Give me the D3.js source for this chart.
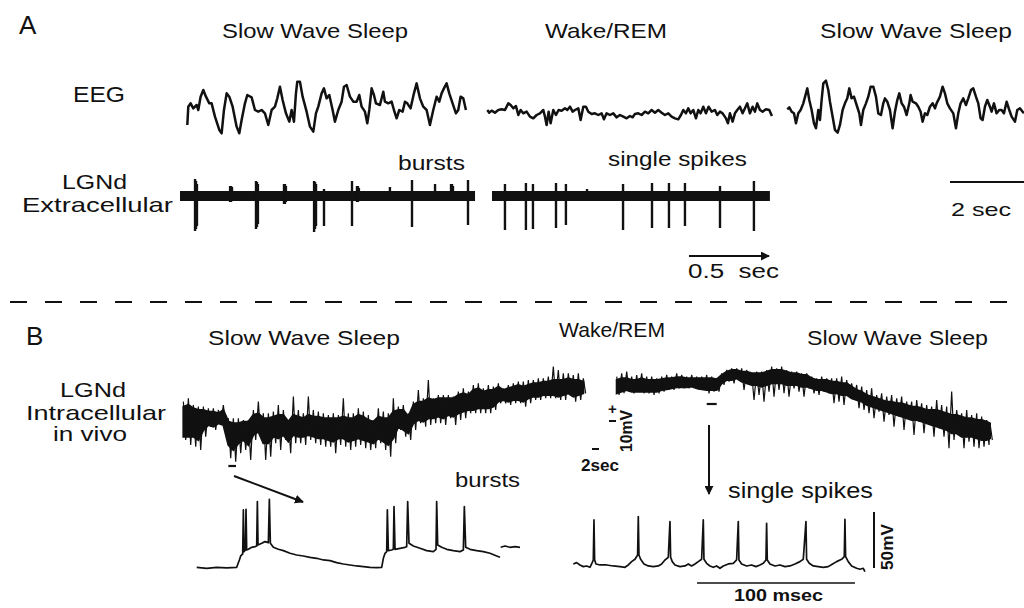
<!DOCTYPE html>
<html>
<head>
<meta charset="utf-8">
<script src="https://cdn.jsdelivr.net/npm/d3@7"></script>
<style>
body{margin:0;background:#fff;}
svg{display:block;font-family:"Liberation Sans",Arial,sans-serif;}
text{fill:#111;}
</style>
</head>
<body>
<svg id="chart" width="1024" height="608"></svg>
<script>
/* A: EEG, [muestra, amplitud]  (111 muestras = 1 s) */
var EEG_RATE = 111;
var eegSws1 = [[0,-45],[3,10],[10,20],[18,5],[28,15],[33,0],[40,40],[48,60],[56,40],[66,20],[73,20],[83,-20],[96,-60],[103,-70],[110,0],[118,50],[126,40],[136,10],[148,-50],[156,-70],[163,-30],[173,20],[180,45],[193,38],[203,0],[213,-5],[223,0],[233,-10],[243,-45],[253,0],[263,10],[270,35],[278,70],[286,30],[296,-10],[306,-35],[313,0],[320,-35],[326,50],[330,85],[338,85],[346,40],[358,-5],[368,-50],[378,-65],[386,-10],[393,10],[403,50],[410,65],[418,35],[426,45],[436,0],[443,-35],[453,0],[463,25],[470,70],[478,75],[488,40],[498,25],[508,25],[516,45],[523,10],[533,-5],[540,-40],[546,0],[553,65],[560,45],[566,20],[578,15],[588,55],[593,25],[603,20],[613,25],[620,0],[628,-25],[636,0],[646,-5],[653,25],[660,20],[670,5],[680,50],[688,80],[698,35],[708,10],[718,0],[728,-45],[738,0],[748,40],[756,25],[763,50],[770,65],[778,80],[786,50],[796,20],[806,-10],[813,0],[820,40],[828,35],[836,0]];
var eegWake = [[0,0],[6,-8],[13,-2],[23,-8],[33,0],[43,2],[53,0],[63,20],[70,15],[78,5],[86,12],[93,-15],[100,0],[108,-10],[118,-5],[128,-20],[138,-25],[148,-15],[158,-10],[168,0],[173,-20],[178,-45],[184,-5],[190,-40],[198,0],[206,-15],[214,0],[223,-2],[233,5],[240,0],[248,10],[256,-5],[263,0],[273,5],[280,-30],[288,10],[296,10],[303,-5],[313,-12],[323,-10],[333,-15],[343,-10],[350,-28],[358,-10],[368,-15],[378,-10],[388,-22],[398,-15],[408,-20],[418,-25],[428,-18],[436,-22],[443,-12],[453,-10],[463,-15],[473,-5],[483,-10],[493,0],[503,-8],[513,0],[523,-8],[533,-15],[543,-10],[553,-20],[563,-25],[573,-28],[581,-15],[588,0],[596,-10],[603,5],[610,-10],[618,0],[626,-25],[633,0],[640,-10],[648,10],[656,-10],[664,10],[673,-5],[683,0],[690,-15],[698,-5],[706,-10],[716,-25],[722,-40],[728,-10],[736,-35],[743,-10],[750,0],[758,10],[766,-10],[773,5],[780,20],[788,-10],[796,10],[803,-5],[810,20],[818,0],[826,-5],[836,2],[846,0],[854,-18]];
var eegSws2 = [[0,2],[6,8],[13,-5],[20,-10],[26,-40],[33,-10],[40,0],[48,20],[56,50],[60,65],[66,30],[73,0],[80,-40],[86,-55],[93,0],[98,-30],[103,30],[108,80],[116,88],[123,60],[128,25],[136,-20],[143,-60],[151,-68],[158,-45],[166,0],[173,20],[180,35],[186,65],[193,35],[200,40],[208,15],[216,-10],[221,-45],[228,0],[236,20],[243,40],[250,70],[258,70],[266,40],[273,-10],[281,-15],[288,20],[293,35],[300,25],[308,0],[316,-55],[323,-5],[330,30],[336,50],[343,20],[350,10],[358,-15],[366,20],[370,45],[376,25],[386,20],[393,10],[400,-5],[406,-35],[413,-10],[420,-15],[428,10],[436,20],[443,5],[448,20],[458,40],[466,70],[473,50],[480,20],[488,5],[498,-10],[506,-55],[513,-10],[520,20],[528,35],[536,15],[543,35],[551,60],[558,65],[566,40],[573,20],[580,-25],[586,-30],[593,10],[600,30],[608,10],[613,-5],[620,20],[628,-10],[636,0],[643,0],[650,-10],[658,25],[666,0],[673,-20],[683,-35],[690,0],[698,5],[706,-5],[710,-10]];

/* A: LGNd extracelular, [ms, pico arriba, pico abajo] */
var extSws = [[94,17,35],[100,15,33],[106,12,30],[313,10,6],[319,10,6],[325,9,5],[475,15,33],[481,14,31],[487,12,28],[650,12,8],[656,12,8],[662,10,6],[838,15,36],[844,14,33],[850,12,30],[900,7,30],[1075,15,30],[1106,10,6],[1112,10,6],[1118,8,5],[1312,9,3],[1450,16,31],[1594,12,3],[1694,12,5],[1700,12,5],[1706,10,4],[1800,16,29]];
var extWake = [[81,12,34],[212,13,34],[256,12,33],[400,13,32],[462,12,29],[594,7,3],[819,12,34],[1000,13,32],[1106,13,32],[1206,13,30],[1425,10,32],[1637,15,35]];
var extDur = [1844, 1737];

/* B: LGNd intracelular in vivo, extremos [muestra, máx, mín] */
var intraSws = [[2,185,70],[17,195,55],[32,175,50],[47,170,40],[62,170,80],[77,165,110],[92,165,100],[107,160,120],[122,175,110],[137,135,15],[152,135,5],[167,135,30],[182,130,40],[197,130,10],[212,160,70],[227,185,80],[242,150,10],[257,150,20],[272,155,60],[287,175,40],[302,160,70],[317,130,30],[332,200,60],[347,160,60],[362,150,55],[377,200,70],[392,160,60],[407,155,55],[422,150,50],[437,145,50],[452,150,30],[467,145,55],[482,195,50],[497,150,40],[512,150,50],[527,165,55],[542,155,45],[557,145,40],[572,130,45],[587,165,60],[602,155,40],[617,150,20],[632,195,60],[647,170,100],[662,175,80],[677,150,70],[692,185,100],[707,220,120],[722,195,110],[737,250,115],[752,195,120],[767,205,120],[782,205,115],[797,205,135],[812,200,115],[827,215,130],[842,225,135],[857,215,150],[872,235,150],[887,240,150],[902,225,150],[917,235,150],[932,230,160],[947,240,180],[962,225,180],[977,235,175],[992,240,180],[1007,245,180],[1022,245,170],[1037,250,180],[1052,250,190],[1067,255,190],[1082,255,195],[1097,260,195],[1112,290,195],[1127,280,190],[1142,270,190],[1157,270,205],[1172,265,185],[1187,270,190],[1202,255,210]];
var intraWake = [[0,260,205],[15,270,210],[30,275,215],[45,260,210],[60,265,215],[75,270,210],[90,260,210],[105,260,205],[120,255,210],[135,260,215],[150,265,220],[165,260,220],[180,270,225],[195,265,225],[210,260,225],[225,265,230],[240,260,220],[255,260,220],[270,265,210],[285,260,215],[300,255,215],[315,270,235],[330,280,245],[345,285,240],[360,285,250],[375,285,220],[390,280,235],[405,270,190],[420,275,205],[435,275,185],[450,280,215],[465,290,200],[480,285,220],[495,290,210],[510,280,200],[525,275,225],[540,275,215],[555,270,200],[570,270,225],[585,260,210],[600,255,205],[615,260,215],[630,255,210],[645,255,180],[660,255,185],[675,260,175],[690,250,200],[705,240,195],[720,235,165],[735,230,160],[750,220,150],[765,225,135],[780,205,155],[795,210,125],[810,200,145],[825,205,110],[840,195,140],[855,200,100],[870,185,135],[885,185,85],[900,190,125],[915,180,90],[930,175,115],[945,170,80],[960,190,105],[975,175,80],[990,170,45],[1005,215,70],[1020,160,100],[1035,150,45],[1050,160,65],[1065,145,50],[1080,150,45],[1095,140,50],[1110,130,55],[1120,120,70]];
/* banda central del registro, [muestra, arriba, abajo] */
var intraSwsCore = [[2,170,80],[17,175,80],[32,165,80],[47,160,70],[62,160,100],[77,155,115],[92,155,110],[107,150,120],[122,160,115],[137,125,55],[152,120,40],[167,120,60],[182,125,70],[197,125,55],[212,145,85],[227,150,95],[242,135,60],[257,135,60],[272,140,80],[287,145,75],[302,145,85],[317,125,65],[332,145,85],[347,140,80],[362,135,80],[377,145,85],[392,140,80],[407,140,75],[422,135,75],[437,135,70],[452,135,65],[467,135,75],[482,140,75],[497,135,65],[512,135,70],[527,145,75],[542,140,70],[557,130,65],[572,125,60],[587,140,75],[602,135,65],[617,135,55],[632,155,75],[647,160,110],[662,160,100],[677,140,90],[692,175,120],[707,185,130],[722,185,125],[737,195,135],[752,190,135],[767,195,140],[782,195,135],[797,195,145],[812,195,140],[827,205,150],[842,210,155],[857,205,160],[872,220,160],[887,225,165],[902,215,165],[917,220,165],[932,220,170],[947,230,185],[962,220,190],[977,225,185],[992,230,190],[1007,235,190],[1022,230,185],[1037,235,195],[1052,240,200],[1067,240,200],[1082,245,205],[1097,245,205],[1112,250,205],[1127,250,200],[1142,250,205],[1157,255,210],[1172,250,200],[1187,250,205],[1202,245,210]];
var intraWakeCore = [[0,250,210],[15,255,215],[30,255,220],[45,250,215],[60,250,215],[75,255,215],[90,250,215],[105,250,215],[120,250,215],[135,252,220],[150,255,222],[165,255,225],[180,258,228],[195,258,228],[210,255,228],[225,255,230],[240,255,225],[255,255,222],[270,255,220],[285,255,220],[300,252,220],[315,265,240],[330,275,250],[345,280,250],[360,280,255],[375,275,245],[390,275,240],[405,270,235],[420,270,235],[435,270,230],[450,275,235],[465,280,240],[480,280,240],[495,280,240],[510,275,235],[525,270,235],[540,270,235],[555,265,230],[570,265,230],[585,255,225],[600,250,220],[615,250,220],[630,250,215],[645,245,210],[660,245,210],[675,240,205],[690,240,205],[705,230,195],[720,220,190],[735,215,185],[750,205,175],[765,200,170],[780,195,165],[795,190,160],[810,185,155],[825,185,150],[840,180,145],[855,180,140],[870,175,135],[885,170,130],[900,170,130],[915,165,125],[930,160,120],[945,160,115],[960,160,110],[975,155,105],[990,150,100],[1005,145,90],[1020,145,90],[1035,140,80],[1050,135,80],[1065,135,80],[1080,130,75],[1095,130,70],[1110,125,70],[1120,120,75]];

/* B: registros ampliados, [muestra, potencial] */
var cellBursts = [[0,78],[30,75],[60,78],[90,76],[120,78],[128,100],[132,112],[138,118],[140,250],[142,125],[146,130],[148,252],[150,130],[155,132],[165,138],[175,140],[180,142],[182,275],[184,145],[195,150],[205,155],[215,152],[218,282],[221,150],[230,138],[245,132],[260,128],[280,120],[300,115],[320,112],[340,108],[360,105],[380,100],[400,98],[420,92],[440,88],[460,85],[480,82],[500,80],[520,78],[540,77],[555,78],[560,105],[565,120],[570,125],[572,250],[575,128],[585,130],[590,132],[592,260],[595,132],[610,135],[625,138],[630,140],[633,275],[637,150],[650,142],[670,135],[690,128],[710,125],[718,132],[720,275],[723,145],[735,138],[750,132],[770,128],[790,125],[800,130],[803,260],[807,138],[820,132],[840,128],[860,125],[880,120],[900,112],[910,108]];
var cellBurstsTail = [[912,138],[925,142],[940,138],[955,140],[970,138]];
var cellSingle = [[0,88],[10,92],[20,85],[30,80],[40,82],[50,78],[55,88],[60,100],[62,220],[64,100],[68,88],[80,85],[100,85],[120,82],[140,80],[155,78],[165,85],[175,95],[185,102],[193,115],[195,230],[197,115],[202,102],[212,88],[225,82],[240,80],[255,82],[265,88],[275,100],[285,108],[290,215],[292,108],[297,95],[305,85],[320,80],[335,82],[345,88],[355,82],[365,88],[375,95],[385,102],[390,220],[392,102],[400,90],[410,82],[420,78],[430,82],[440,75],[450,82],[465,88],[480,90],[490,100],[495,215],[497,100],[505,88],[520,82],[535,85],[548,80],[560,85],[570,90],[578,100],[580,210],[582,100],[590,88],[605,82],[620,85],[635,80],[650,82],[665,88],[680,95],[690,102],[698,215],[700,102],[708,90],[720,82],[735,80],[750,78],[765,80],[778,88],[790,95],[805,102],[813,110],[815,222],[817,110],[825,95],[835,82],[850,75],[860,72],[870,75],[875,65]];
var SINGLE_MS = 4.74;   // muestras por ms
var CELL_MV = 3.36;     // unidades por mV

var svg = d3.select("#chart");
var defs = svg.append("defs");
defs.append("marker").attr("id", "head").attr("viewBox", "0 0 10 10")
	.attr("refX", 9).attr("refY", 5).attr("markerWidth", 9).attr("markerHeight", 9)
	.attr("markerUnits", "userSpaceOnUse").attr("orient", "auto")
	.append("path").attr("d", "M0,0L10,5L0,10Z").attr("fill", "#111");

function label(x, y, txt, size, len, opt) {
	opt = opt || {};
	var t = svg.append("text").attr("x", x).attr("y", y).text(txt)
		.attr("font-size", size).style("white-space", "pre");
	if (len) t.attr("textLength", len).attr("lengthAdjust", "spacingAndGlyphs");
	if (opt.bold) t.attr("font-weight", "bold");
	if (opt.rot) t.attr("transform", "rotate(-90," + x + "," + y + ")");
	return t;
}
function hline(x1, y1, x2, y2, w, arrow) {
	var l = svg.append("line").attr("x1", x1).attr("y1", y1).attr("x2", x2).attr("y2", y2)
		.attr("stroke", "#111").attr("stroke-width", w);
	if (arrow) l.attr("marker-end", "url(#head)");
	return l;
}

/* ---- Panel A: EEG ---- */
var xEEG = d3.scaleLinear().domain([0, 1000]).range([0, 333.3]);
var yEEG = d3.scaleLinear().domain([-100, 100]).range([143.3, 76.7]);
var eegLine = d3.line().x(function(d) {return xEEG(d[0]);}).y(function(d) {return yEEG(d[1]);});
[[eegSws1, 187.3], [eegWake, 487.3], [eegSws2, 787.3]].forEach(function(s) {
	svg.append("path").datum(s[0]).attr("transform", "translate(" + s[1] + ",0)")
		.attr("d", eegLine).attr("fill", "none").attr("stroke", "#111")
		.attr("stroke-width", 2.5).attr("stroke-linejoin", "round");
});

/* ---- Panel A: extracelular ---- */
var xExt = d3.scaleLinear().domain([0, 1000]).range([0, 160]);
var yExt = d3.scaleLinear().domain([-40, 20]).range([236, 176]);
[[extSws, extDur[0], 180], [extWake, extDur[1], 492]].forEach(function(s) {
	var g = svg.append("g").attr("transform", "translate(" + s[2] + ",0)");
	g.append("line").attr("x1", xExt(0)).attr("x2", xExt(s[1]))
		.attr("y1", yExt(0)).attr("y2", yExt(0))
		.attr("stroke", "#111").attr("stroke-width", 10);
	g.selectAll("line.spk").data(s[0]).enter().append("line").attr("class", "spk")
		.attr("x1", function(d) {return xExt(d[0]);}).attr("x2", function(d) {return xExt(d[0]);})
		.attr("y1", function(d) {return yExt(d[1]);}).attr("y2", function(d) {return yExt(-d[2]);})
		.attr("stroke", "#111").attr("stroke-width", 2.4);
});

/* ---- Panel B: intracelular (banda + extremos en zigzag) ---- */
var xIntra = d3.scaleLinear().domain([0, 1000]).range([0, 333.3]);
var yIntra = d3.scaleLinear().domain([0, 300]).range([463.3, 363.3]);
var intraArea = d3.area().x(function(d) {return xIntra(d[0]);})
	.y0(function(d) {return yIntra(d[2]);}).y1(function(d) {return yIntra(d[1]);});
var intraLine = d3.line().x(function(d) {return xIntra(d[0]);}).y(function(d) {return yIntra(d[1]);});
function zigzag(env) {
	var pts = [];
	env.forEach(function(d) {pts.push([d[0], d[1]]); pts.push([d[0] + 7, d[2]]);});
	return pts;
}
[[intraSws, intraSwsCore, 182.7], [intraWake, intraWakeCore, 616.7]].forEach(function(s) {
	var g = svg.append("g").attr("transform", "translate(" + s[2] + ",0)");
	g.append("path").datum(s[1]).attr("d", intraArea).attr("fill", "#111")
		.attr("stroke", "#111").attr("stroke-width", 2);
	g.append("path").datum(zigzag(s[0])).attr("d", intraLine).attr("fill", "none")
		.attr("stroke", "#111").attr("stroke-width", 1.2);
});

/* ---- Panel B: registros ampliados ---- */
var xCell = d3.scaleLinear().domain([0, 1000]).range([0, 333.3]);
var yCell = d3.scaleLinear().domain([0, 300]).range([593.3, 493.3]);
var cellLine = d3.line().x(function(d) {return xCell(d[0]);}).y(function(d) {return yCell(d[1]);});
[[cellBursts, 196.7], [cellBurstsTail, 196.7], [cellSingle, 573.3]].forEach(function(s) {
	svg.append("path").datum(s[0]).attr("transform", "translate(" + s[1] + ",0)")
		.attr("d", cellLine).attr("fill", "none").attr("stroke", "#111")
		.attr("stroke-width", 1.7).attr("stroke-linejoin", "round");
});

/* separador */
svg.append("line").attr("x1", 10).attr("x2", 1012).attr("y1", 302).attr("y2", 302)
	.attr("stroke", "#111").attr("stroke-width", 2).attr("stroke-dasharray", "17 18");

/* barras de escala */
hline(950, 182, 950 + xEEG(2 * EEG_RATE), 182, 2);
hline(689, 256, 689 + xExt(500), 256, 2, true);
hline(592, 449, 599, 449, 2);
hline(609, 421, 616, 421, 2);
hline(874, yCell(76), 874, yCell(76 + 50 * CELL_MV), 2);
hline(697, 583, 697 + xCell(100 * SINGLE_MS), 583, 1.5);

/* ventanas ampliadas y flechas */
hline(182.7 + xIntra(137), 466, 182.7 + xIntra(160), 466, 2.2);
hline(616.7 + xIntra(270), 404, 616.7 + xIntra(300), 404, 2.2);
hline(234, 476, 303, 502, 2, true);
hline(709, 425, 709, 494, 2, true);

/* textos */
label(19, 34, "A", 26);
label(222, 38, "Slow Wave Sleep", 21, 186);
label(545, 38, "Wake/REM", 21, 122);
label(820, 38, "Slow Wave Sleep", 21, 192);
label(73, 102, "EEG", 22, 52);
label(62, 189, "LGNd", 21, 65);
label(22, 212, "Extracellular", 21, 151);
label(398, 170, "bursts", 21, 67);
label(608, 166, "single spikes", 21, 139);
label(688, 278, "0.5  sec", 20, 91);
label(951, 216, "2 sec", 19, 60);

label(26, 345, "B", 26);
label(208, 345, "Slow Wave Sleep", 21, 192);
label(559, 337, "Wake/REM", 21, 106);
label(807, 345, "Slow Wave Sleep", 21, 181);
label(60, 397, "LGNd", 21, 66);
label(26, 420, "Intracellular", 21, 140);
label(53, 441, "in vivo", 21, 74);
label(581, 471, "2sec", 17, 38, {bold: true});
label(608, 414, "+", 15, null, {bold: true});
label(632, 452, "10mV", 17, 42, {bold: true, rot: true});
label(455, 487, "bursts", 21, 65);
label(728, 498, "single spikes", 22, 145);
label(893, 570, "50mV", 17, 46, {bold: true, rot: true});
label(734, 601, "100 msec", 17, 89, {bold: true});
</script>
</body>
</html>
